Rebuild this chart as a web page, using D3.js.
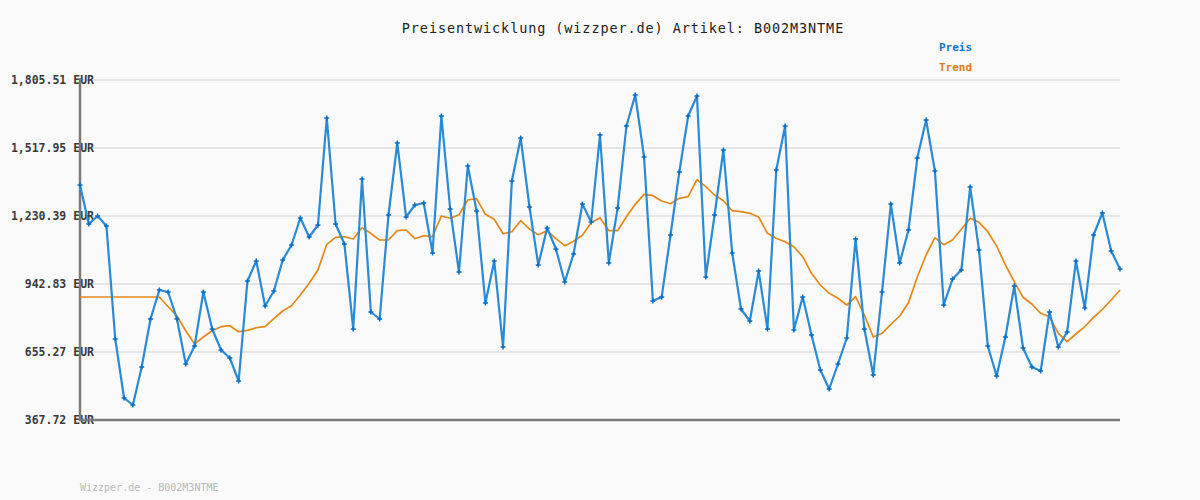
<!DOCTYPE html>
<html><head><meta charset="utf-8">
<script src="https://cdn.jsdelivr.net/npm/d3@7/dist/d3.min.js"></script>
<style>html,body{margin:0;padding:0;background:#fafafa;}svg{display:block;}</style>
</head><body>
<svg id="chart" width="1200" height="500"></svg>
<script>
const title = "Preisentwicklung (wizzper.de) Artikel: B002M3NTME";
const footer = "Wizzper.de - B002M3NTME";
const seriesNames = ["Preis", "Trend"];
const yTicks = [367.72, 655.27, 942.83, 1230.39, 1517.95, 1805.51];

const preis = [1361.5,1196.5,1230.4,1188.1,710.3,460.8,431.1,591.8,794.8,917.5,
909.0,794.8,604.5,680.6,909.0,752.5,663.7,629.9,532.6,955.5,
1040.1,849.8,913.2,1044.3,1107.7,1221.9,1141.6,1192.3,1644.8,1196.5,
1112.0,752.5,1386.8,824.4,794.8,1234.6,1539.1,1226.1,1276.9,1285.4,
1073.9,1653.3,1260.0,993.6,1441.8,1251.5,862.5,1040.1,676.4,1378.4,
1560.2,1268.4,1023.2,1179.6,1090.8,951.3,1069.7,1281.1,1205.0,1572.9,
1031.6,1264.2,1611.0,1742.1,1479.9,870.9,887.8,1150.0,1416.4,1653.3,
1737.8,972.4,1234.6,1509.5,1073.9,837.1,786.4,997.8,752.5,1424.9,
1611.0,748.3,887.8,727.1,579.1,498.8,604.5,714.5,1133.1,752.5,
558.0,909.0,1281.1,1031.6,1171.2,1475.6,1636.3,1420.7,854.0,964.0,
1002.0,1353.0,1086.6,680.6,553.8,718.7,934.4,672.2,591.8,574.9,
824.4,676.4,739.8,1040.1,841.3,1150.0,1243.1,1082.4,1006.2];

const trend = [887.8,887.8,887.8,887.8,887.8,887.8,887.8,887.8,887.8,887.8,
846.8,807.5,745.3,689.1,718.7,745.3,762.2,766.5,741.1,747.0,
758.0,762.2,796.1,828.6,851.1,896.3,945.8,1002.0,1110.7,1140.3,
1142.8,1133.1,1180.9,1157.2,1128.9,1128.9,1168.2,1171.2,1134.4,1147.1,
1142.8,1230.4,1220.7,1235.9,1298.0,1303.5,1237.6,1216.4,1155.5,1164.0,
1210.5,1175.4,1151.3,1168.2,1134.4,1104.8,1123.4,1148.8,1202.0,1223.2,
1168.2,1168.2,1227.4,1279.8,1322.1,1316.2,1293.8,1282.4,1305.2,1312.0,
1383.9,1354.3,1319.2,1295.1,1252.8,1248.6,1241.8,1226.1,1157.2,1136.1,
1121.7,1100.6,1058.3,988.1,938.6,903.5,882.4,854.0,889.1,811.7,
718.7,734.3,772.4,807.5,863.7,972.4,1065.5,1138.6,1109.0,1128.9,
1174.1,1220.7,1203.7,1164.0,1103.5,1023.2,952.5,886.6,858.2,818.9,
804.5,734.3,698.8,731.4,762.2,802.0,835.8,875.2,917.5];

(function () {
const svg = d3.select("#chart");
const mono = "'DejaVu Sans Mono', 'Liberation Mono', monospace";
const pL = 80, pR = 1120, pT = 80, pB = 420;

const x = d3.scaleLinear().domain([0, preis.length - 1]).range([pL, pR]);
const y = d3.scaleLinear().domain([yTicks[0], yTicks[yTicks.length - 1]]).range([pB, pT]);

svg.append("rect").attr("width", 1200).attr("height", 500).attr("fill", "#fafafa");

// gridlines
svg.append("g").selectAll("line").data(yTicks.slice(1)).join("line")
  .attr("x1", pL).attr("x2", pR)
  .attr("y1", d => y(d)).attr("y2", d => y(d))
  .attr("stroke", "#e6e6e6").attr("stroke-width", 2);

// y axis labels
const fmt = d3.format(",.2f");
svg.append("g").selectAll("text").data(yTicks).join("text")
  .attr("x", 94).attr("y", d => y(d) + 4)
  .attr("text-anchor", "end")
  .attr("font-family", mono).attr("font-size", 11.5).attr("font-weight", "bold")
  .attr("fill", "#3a3a3a")
  .text(d => fmt(d) + " EUR");

// axes lines
svg.append("line").attr("x1", pL).attr("x2", pL).attr("y1", pT - 2).attr("y2", pB + 1)
  .attr("stroke", "#7a7a7a").attr("stroke-width", 2.5);
svg.append("line").attr("x1", pL - 1).attr("x2", pR).attr("y1", pB).attr("y2", pB)
  .attr("stroke", "#7a7a7a").attr("stroke-width", 2.5);

const line = d3.line().x((d, i) => x(i)).y(d => y(d));
// trend line
svg.append("path").datum(trend).attr("d", line)
  .attr("fill", "none").attr("stroke", "#e3891c").attr("stroke-width", 1.7)
  .attr("stroke-linejoin", "round");

// price line
svg.append("path").datum(preis).attr("d", line)
  .attr("fill", "none").attr("stroke", "#2a8ad4").attr("stroke-width", 2.2)
  .attr("stroke-linejoin", "round");

// markers (+)
const mk = svg.append("g").attr("stroke", "#0a6ec2").attr("stroke-width", 1.5);
mk.selectAll("line.h").data(preis).join("line").attr("class", "h")
  .attr("x1", (d, i) => x(i) - 2.5).attr("x2", (d, i) => x(i) + 2.5)
  .attr("y1", d => y(d)).attr("y2", d => y(d));
mk.selectAll("line.v").data(preis).join("line").attr("class", "v")
  .attr("x1", (d, i) => x(i)).attr("x2", (d, i) => x(i))
  .attr("y1", d => y(d) - 2.5).attr("y2", d => y(d) + 2.5);

// title
svg.append("text").attr("x", 623).attr("y", 33).attr("text-anchor", "middle")
  .attr("font-family", mono).attr("font-size", 13.5).attr("letter-spacing", 0.9)
  .attr("fill", "#222").text(title);

// legend
const legColors = ["#0a78c8", "#e07d0a"];
svg.append("g").selectAll("text").data(seriesNames).join("text")
  .attr("x", 939).attr("y", (d, i) => 51 + i * 20)
  .attr("font-family", mono).attr("font-size", 11).attr("font-weight", "bold")
  .attr("fill", (d, i) => legColors[i]).text(d => d);

// footer
svg.append("text").attr("x", 80).attr("y", 491)
  .attr("font-family", mono).attr("font-size", 10)
  .attr("fill", "#b8b8b8").text(footer);
})();
</script>
</body></html>
